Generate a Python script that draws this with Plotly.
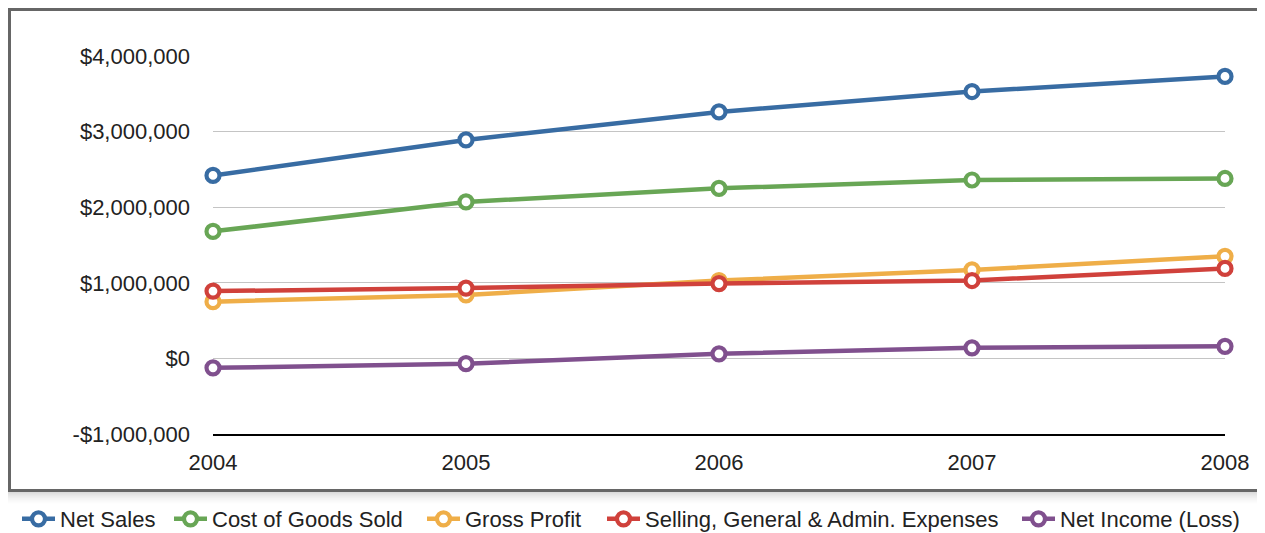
import plotly.graph_objects as go

years = [2004, 2005, 2006, 2007, 2008]
net_sales = [2420000, 2890000, 3260000, 3530000, 3730000]
cogs = [1680000, 2070000, 2250000, 2360000, 2380000]
gross_profit = [750000, 840000, 1030000, 1170000, 1350000]
sga = [890000, 930000, 990000, 1030000, 1190000]
net_income = [-125000, -70000, 60000, 140000, 160000]

series_names = ["Net Sales", "Cost of Goods Sold", "Gross Profit",
                "Selling, General & Admin. Expenses", "Net Income (Loss)"]
series_values = [net_sales, cogs, gross_profit, sga, net_income]
colors = ["#386ca3", "#68a655", "#efae48", "#d0413b", "#80508e"]

y_tick_vals = [-1000000, 0, 1000000, 2000000, 3000000, 4000000]
y_tick_text = ["-$1,000,000", "$0", "$1,000,000", "$2,000,000", "$3,000,000", "$4,000,000"]
x_tick_text = ["2004", "2005", "2006", "2007", "2008"]

FONT = "Liberation Sans, Arial, Helvetica, sans-serif"
OFF = 8  # default page body margin
W, H = 1265 - OFF, 533 - OFF
L, R, T, B = 213 - OFF, 40, 56 - OFF, 99
PW, PH = W - L - R, H - T - B


def px_x(p):
    return (p - OFF - L) / PW


def px_y(p):
    return (H - B - (p - OFF)) / PH


# legend entry left positions (page pixels)
legend_left = [17, 169, 422, 602, 1017]
legend_ids = ["legend", "legend2", "legend3", "legend4", "legend5"]

fig = go.Figure()
for name, vals, col, lid in zip(series_names, series_values, colors, legend_ids):
    fig.add_trace(go.Scatter(
        x=years, y=vals, name=name, mode="lines+markers",
        line=dict(color=col, width=4.5),
        marker=dict(size=13, color="white", line=dict(color=col, width=4.2)),
        cliponaxis=False, legend=lid,
    ))

shapes = []
# shadow under the chart box
for i in range(12):
    shapes.append(dict(
        type="rect", xref="paper", yref="paper", layer="below",
        x0=px_x(8), x1=px_x(1280), y0=px_y(492 + i + 1), y1=px_y(492 + i),
        line=dict(width=0), fillcolor="rgba(0,0,0,%.3f)" % (0.14 * (1 - i / 12) ** 1.5),
    ))
# chart box border
shapes.append(dict(
    type="rect", xref="paper", yref="paper", layer="below",
    x0=px_x(9.5), x1=px_x(1290), y0=px_y(490.5), y1=px_y(9.5),
    line=dict(color="#666666", width=3), fillcolor="white",
))

legends = {}
for lid, lx in zip(legend_ids, legend_left):
    legends[lid] = dict(
        orientation="h", xref="paper", yref="paper",
        x=px_x(lx), xanchor="left", y=px_y(519), yanchor="middle",
        font=dict(family=FONT, size=22, color="#222222"),
        itemwidth=33, bgcolor="rgba(0,0,0,0)",
    )

fig.update_layout(
    width=W, height=H,
    margin=dict(l=L, r=R, t=T, b=B, autoexpand=False),
    paper_bgcolor="white", plot_bgcolor="rgba(0,0,0,0)",
    font=dict(family=FONT, size=22, color="#222222"),
    shapes=shapes,
    showlegend=True,
    xaxis=dict(
        range=[2004, 2008], tickvals=years, ticktext=x_tick_text,
        showgrid=False, zeroline=False, showline=True, linecolor="#000000",
        linewidth=1.5, ticks="", ticklabelstandoff=8,
    ),
    yaxis=dict(
        range=[-1000000, 4000000], tickvals=y_tick_vals, ticktext=y_tick_text,
        showgrid=True, gridcolor="#c4c4c4", gridwidth=1, zeroline=False,
        showline=False, ticks="", ticklabelstandoff=22,
    ),
    **legends,
)

fig.write_html("out.html")
